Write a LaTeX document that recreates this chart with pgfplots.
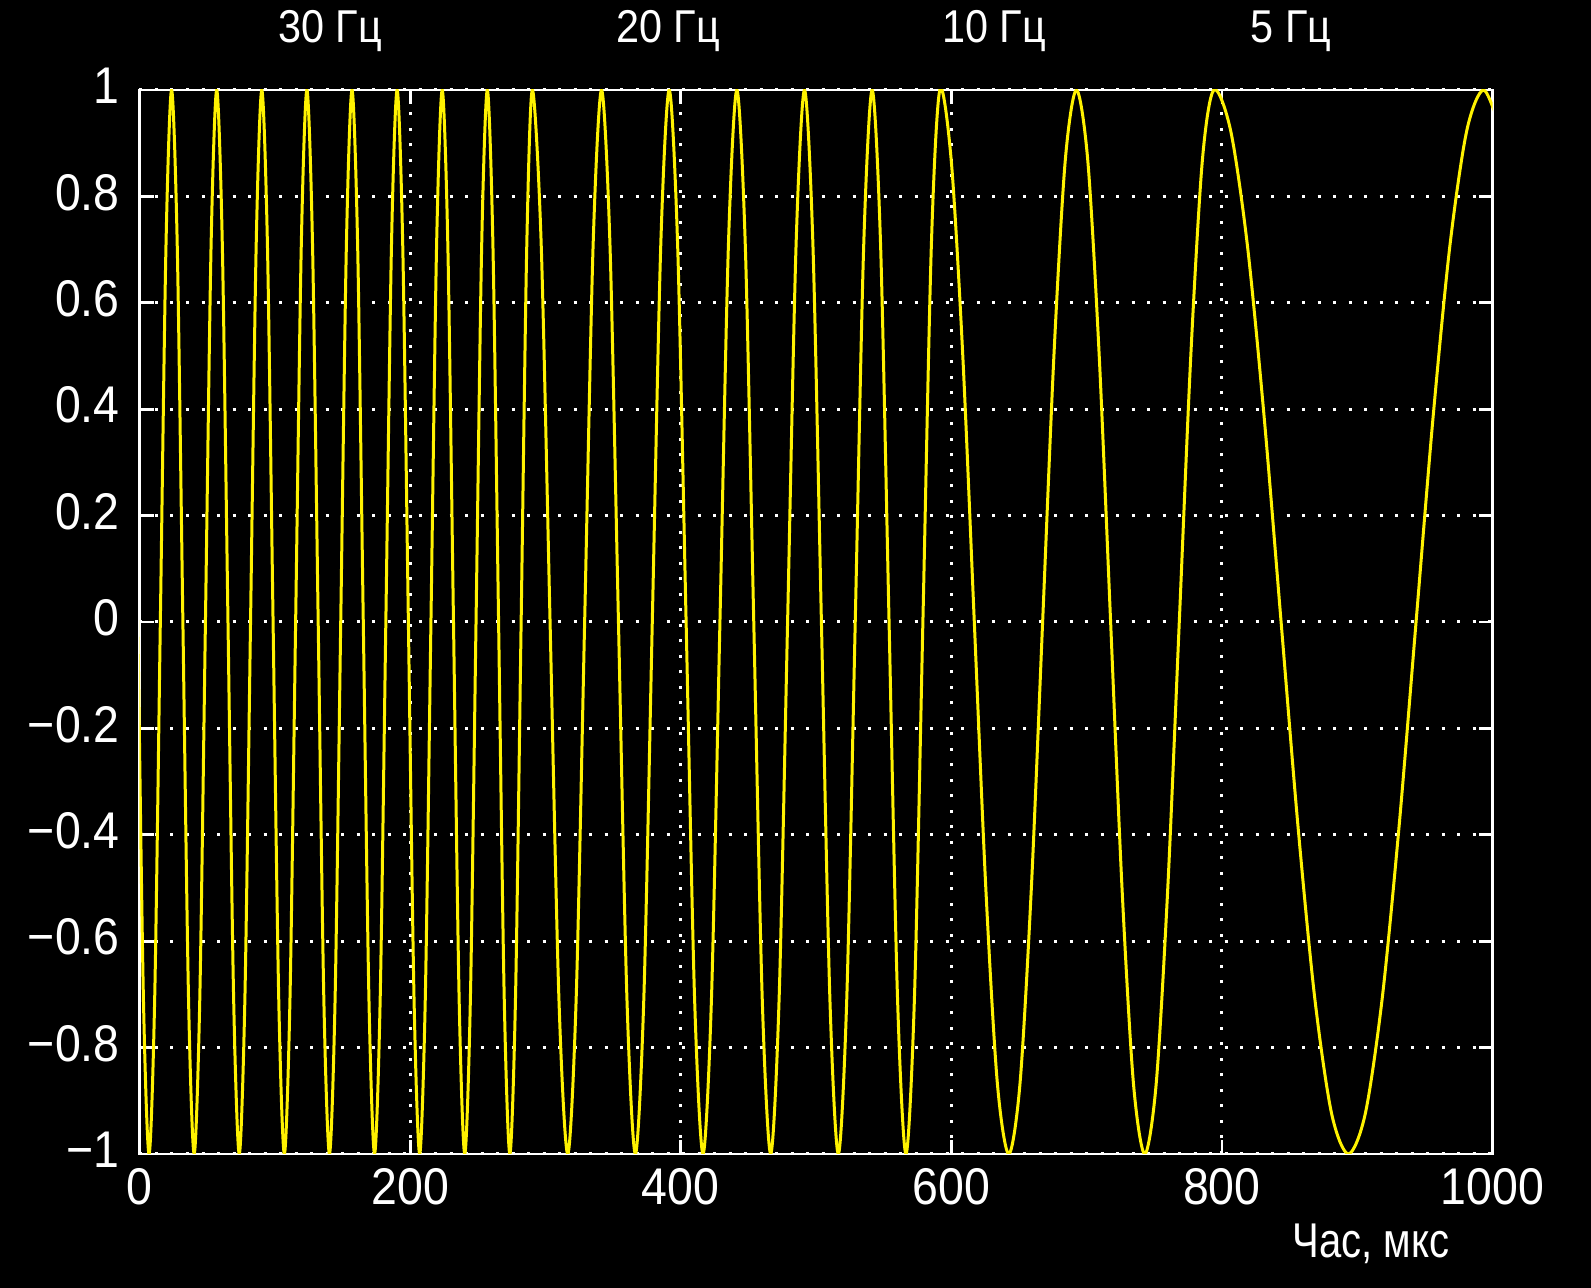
\documentclass[border=0pt]{standalone}
\usepackage{fontspec}
\setmainfont{Liberation Sans}[FakeStretch=0.9]
\newfontfamily\labfont{Liberation Sans}[FakeStretch=0.82]
\usepackage{pgfplots}
\pgfplotsset{compat=1.18}
\begin{document}
\begin{tikzpicture}
\fill[black] (0,0) rectangle (795.5pt,644pt);
\begin{axis}[
  at={(69.75pt,67pt)}, anchor=south west,
  width=676.5pt, height=532pt, scale only axis,
  xmin=0, xmax=1000, ymin=-1, ymax=1,
  xtick={0,200,400,600,800,1000},
  xticklabels={0,200,400,600,800,1000},
  ytick={-1,-0.8,-0.6,-0.4,-0.2,0,0.2,0.4,0.6,0.8,1},
  yticklabels={−1,−0.8,−0.6,−0.4,−0.2,0,0.2,0.4,0.6,0.8,1},
  axis line style={white, line width=1.4pt},
  tick style={white, line width=1.4pt},
  major tick length=7pt,
  tick align=inside,
  xtick pos=both, ytick pos=both,
  grid=major,
  major grid style={white, line width=1.5pt, dash pattern=on 1.5pt off 6.25pt},
  tick label style={white, font=\fontsize{25.8}{30}\selectfont},
  xticklabel style={anchor=north, yshift=-3.7pt},
  yticklabel style={anchor=east, xshift=-6.4pt, yshift=2pt},
  clip=true,
]
\addplot[yellow, line width=1.5pt, smooth] coordinates {
(-9.60,1) (-5.43,0.7071) (-1.27,0) (2.90,-0.7071) (7.07,-1) (11.23,-0.7071) (15.40,0) (19.57,0.7071)
(23.73,1) (27.90,0.7071) (32.07,0) (36.23,-0.7071) (40.40,-1) (44.57,-0.7071) (48.73,0) (52.90,0.7071)
(57.07,1) (61.23,0.7071) (65.40,0) (69.57,-0.7071) (73.73,-1) (77.90,-0.7071) (82.07,0) (86.23,0.7071)
(90.40,1) (94.57,0.7071) (98.73,0) (102.90,-0.7071) (107.07,-1) (111.23,-0.7071) (115.40,0) (119.57,0.7071)
(123.73,1) (127.90,0.7071) (132.07,0) (136.23,-0.7071) (140.40,-1) (144.57,-0.7071) (148.73,0) (152.90,0.7071)
(157.07,1) (161.23,0.7071) (165.40,0) (169.57,-0.7071) (173.73,-1) (177.90,-0.7071) (182.07,0) (186.23,0.7071)
(190.40,1) (194.57,0.7071) (198.73,0) (202.90,-0.7071) (207.07,-1) (211.23,-0.7071) (215.40,0) (219.57,0.7071)
(223.73,1) (227.90,0.7071) (232.07,0) (236.23,-0.7071) (240.40,-1) (244.57,-0.7071) (248.73,0) (252.90,0.7071)
(257.07,1) (261.23,0.7071) (265.40,0) (269.57,-0.7071) (273.73,-1) (277.90,-0.7071) (282.07,0) (286.23,0.7071)
(290.40,1)
(296.93,0.7071) (303.45,0) (309.98,-0.7071) (316.50,-1) (322.75,-0.7071) (329.00,0) (335.25,0.7071)
(341.50,1) (347.75,0.7071) (354.00,0) (360.25,-0.7071) (366.50,-1) (372.75,-0.7071) (379.00,0) (385.25,0.7071)
(391.50,1) (397.75,0.7071) (404.00,0) (410.25,-0.7071) (416.50,-1) (422.75,-0.7071) (429.00,0) (435.25,0.7071)
(441.50,1) (447.75,0.7071) (454.00,0) (460.25,-0.7071) (466.50,-1) (472.75,-0.7071) (479.00,0) (485.25,0.7071)
(491.50,1) (497.75,0.7071) (504.00,0) (510.25,-0.7071) (516.50,-1) (522.75,-0.7071) (529.00,0) (535.25,0.7071)
(541.50,1) (547.75,0.7071) (554.00,0) (560.25,-0.7071) (566.50,-1) (572.75,-0.7071) (579.00,0) (585.25,0.7071)
(591.50,1)
(600.00,0.866) (608.50,0.5) (617.00,0) (625.50,-0.5) (634.00,-0.866) (642.50,-1)
(650.83,-0.866) (659.17,-0.5) (667.50,0) (675.83,0.5) (684.17,0.866) (692.50,1)
(700.92,0.866) (709.33,0.5) (717.75,0) (726.17,-0.5) (734.58,-0.866) (743.00,-1)
(751.50,-0.866) (760.00,-0.5) (768.50,0) (777.00,0.5) (785.50,0.866) (794.00,1)
(806.44,0.9239) (818.88,0.7071) (831.31,0.3827) (843.75,0) (856.19,-0.3827) (868.63,-0.7071) (881.06,-0.9239) (893.50,-1)
(906.00,-0.9239) (918.50,-0.7071) (931.00,-0.3827) (943.50,0) (956.00,0.3827) (968.50,0.7071) (981.00,0.9239) (993.50,1)
(1006.00,0.9239)
};
\end{axis}
\begin{scope}[every node/.style={white, font=\fontsize{23}{27}\selectfont, anchor=base, inner sep=0pt}]
\node at (165pt,622.6pt) {30 Гц};
\node at (334pt,622.6pt) {20 Гц};
\node at (497pt,622.6pt) {10 Гц};
\node at (645.5pt,622.6pt) {5 Гц};
\end{scope}
\node[white, anchor=base, inner sep=0pt, font=\labfont\fontsize{24.4}{28}\selectfont] at (685.5pt,15pt) {Час,  мкс};
\pgfresetboundingbox
\path[use as bounding box] (0,0) rectangle (795.5pt,644pt);
\end{tikzpicture}
\end{document}
